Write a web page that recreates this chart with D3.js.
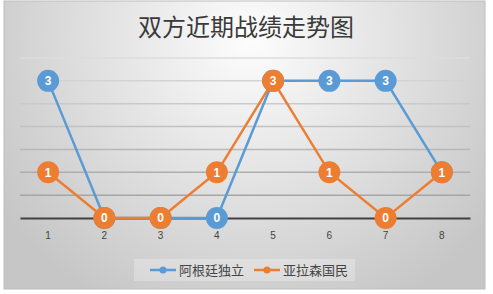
<!DOCTYPE html>
<html>
<head>
<meta charset="utf-8">
<script src="https://cdn.jsdelivr.net/npm/d3@7"></script>
<style>
  body { margin: 0; background: #fff; }
  svg { display: block; }
</style>
</head>
<body>
<div id="chart"></div>
<script>
// match data
let categories = [1, 2, 3, 4, 5, 6, 7, 8];
let teamA = [3, 0, 0, 0, 3, 3, 3, 1];
let teamB = [1, 0, 0, 1, 3, 1, 0, 1];
let seriesNames = ["阿根廷独立", "亚拉森国民"];
let seriesColors = ["#5b9bd5", "#ed7d31"];
let gridTicks = [0, 0.5, 1, 1.5, 2, 2.5, 3, 3.5];

let width = 493, height = 294;
let margin = {top: 58, right: 23, bottom: 76, left: 20};

let svg = d3.select("#chart").append("svg")
  .attr("width", width)
  .attr("height", height);

let defs = svg.append("defs");
let bg = defs.append("radialGradient")
  .attr("id", "bg")
  .attr("gradientUnits", "userSpaceOnUse")
  .attr("cx", 250).attr("cy", 40).attr("r", 300);
bg.append("stop").attr("offset", "0%").attr("stop-color", "#fdfdfd");
bg.append("stop").attr("offset", "100%").attr("stop-color", "#c6c6c6");

svg.append("rect")
  .attr("x", 4).attr("y", 1)
  .attr("width", 481).attr("height", 288)
  .attr("fill", "url(#bg)")
  .attr("stroke", "#bdbdbd")
  .attr("stroke-width", 1);

let x = d3.scaleBand()
  .domain(categories)
  .range([margin.left, width - margin.right]);

let y = d3.scaleLinear()
  .domain([0, 3.5])
  .range([height - margin.bottom, margin.top]);

// title
svg.append("text")
  .attr("x", 246)
  .attr("y", 36)
  .attr("text-anchor", "middle")
  .attr("font-family", "Noto Sans CJK SC")
  .attr("font-size", 24)
  .attr("fill", "#3a3a3a")
  .text("双方近期战绩走势图");

// gridlines
let gridColor = d3.scaleLinear().domain([0.5, 3.5]).range(["#a5a5a5", "#dcdcdc"]);
svg.append("g")
  .selectAll("line")
  .data(gridTicks.filter(d => d > 0))
  .join("line")
  .attr("x1", margin.left)
  .attr("x2", width - margin.right)
  .attr("y1", d => y(d))
  .attr("y2", d => y(d))
  .attr("stroke", d => gridColor(d))
  .attr("stroke-width", 1.5);

// x axis
let xAxis = svg.append("g")
  .attr("transform", "translate(0," + y(0) + ")")
  .call(d3.axisBottom(x).tickSize(0).tickPadding(14));
xAxis.select(".domain")
  .attr("stroke", "#404040")
  .attr("stroke-width", 2);
xAxis.selectAll("text")
  .attr("font-family", "Liberation Sans, Arial")
  .attr("font-size", 10)
  .attr("fill", "#444");

let line = d3.line()
  .x((d, i) => x(categories[i]) + x.bandwidth() / 2)
  .y(d => y(d));

[teamA, teamB].forEach(function (values, s) {
  let g = svg.append("g");
  g.append("path")
    .datum(values)
    .attr("d", line)
    .attr("fill", "none")
    .attr("stroke", seriesColors[s])
    .attr("stroke-width", 2.5);

  let pt = g.selectAll("g.pt")
    .data(values)
    .join("g")
    .attr("class", "pt")
    .attr("transform", (d, i) => "translate(" + (x(categories[i]) + x.bandwidth() / 2) + "," + y(d) + ")");
  pt.append("circle")
    .attr("r", 11)
    .attr("fill", seriesColors[s]);
  pt.append("text")
    .attr("text-anchor", "middle")
    .attr("dy", "0.36em")
    .attr("font-family", "Liberation Sans, Arial")
    .attr("font-weight", "bold")
    .attr("font-size", 12)
    .attr("fill", "#fff")
    .text(d => d);
});

// legend
let legend = svg.append("g");
legend.append("rect")
  .attr("x", 134).attr("y", 259)
  .attr("width", 221).attr("height", 22)
  .attr("fill", "#fff")
  .attr("fill-opacity", 0.25);

let legendX = [150, 254];
seriesNames.forEach(function (name, s) {
  let lg = legend.append("g").attr("transform", "translate(" + legendX[s] + ",270)");
  lg.append("line")
    .attr("x1", 0).attr("x2", 26)
    .attr("stroke", seriesColors[s])
    .attr("stroke-width", 2.5);
  lg.append("circle")
    .attr("cx", 13).attr("r", 3.5)
    .attr("fill", seriesColors[s]);
  lg.append("text")
    .attr("x", 29)
    .attr("dy", "0.36em")
    .attr("font-family", "Noto Sans CJK SC")
    .attr("font-size", 13)
    .attr("fill", "#444")
    .text(name);
});
</script>
</body>
</html>
